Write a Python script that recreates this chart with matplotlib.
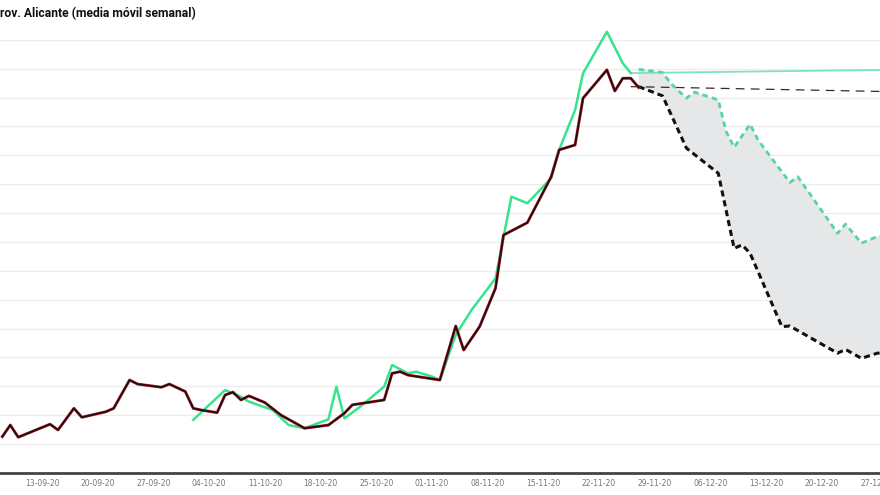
import numpy as np
import pandas as pd
import matplotlib
matplotlib.use("Agg")
import matplotlib.pyplot as plt

# casos (media móvil semanal)
fechas_casos = ["2020-09-08", "2020-09-09", "2020-09-10", "2020-09-14", "2020-09-15", "2020-09-17",
                "2020-09-18", "2020-09-21", "2020-09-22", "2020-09-24", "2020-09-25", "2020-09-28",
                "2020-09-29", "2020-10-01", "2020-10-02", "2020-10-03", "2020-10-05", "2020-10-06",
                "2020-10-07", "2020-10-08", "2020-10-09", "2020-10-11", "2020-10-13", "2020-10-16",
                "2020-10-19", "2020-10-21", "2020-10-22", "2020-10-26", "2020-10-27", "2020-10-28",
                "2020-10-29", "2020-11-02", "2020-11-04", "2020-11-05", "2020-11-07", "2020-11-09",
                "2020-11-10", "2020-11-13", "2020-11-16", "2020-11-17", "2020-11-19", "2020-11-20",
                "2020-11-23", "2020-11-24", "2020-11-25", "2020-11-26", "2020-11-27"]
casos = [126, 166, 124, 169, 149, 224, 193, 212, 224, 322, 308, 297, 308, 282, 224, 218, 209, 270,
         280, 253, 267, 244, 201, 155, 166, 207, 236, 253, 345, 351, 339, 322, 509, 426, 507, 640,
         824, 867, 1026, 1119, 1136, 1298, 1396, 1323, 1367, 1367, 1335]

fechas_verde = ["2020-10-02", "2020-10-06", "2020-10-07", "2020-10-08", "2020-10-09", "2020-10-12",
                "2020-10-14", "2020-10-16", "2020-10-19", "2020-10-20", "2020-10-21", "2020-10-23",
                "2020-10-26", "2020-10-27", "2020-10-29", "2020-10-30", "2020-11-01", "2020-11-02",
                "2020-11-04", "2020-11-06", "2020-11-09", "2020-11-11", "2020-11-13", "2020-11-16",
                "2020-11-17", "2020-11-19", "2020-11-20", "2020-11-23", "2020-11-25", "2020-11-26"]
verde = [184, 287, 276, 264, 247, 218, 166, 155, 186, 299, 189, 230, 299, 374, 345, 351, 334, 322,
         478, 565, 674, 957, 934, 1021, 1119, 1257, 1384, 1528, 1419, 1385]

fechas_ref = ["2020-11-26", "2020-12-28"]
ref_verde = [1385, 1396]
ref_negra = [1338, 1321]

fechas_sup = ["2020-11-27", "2020-11-30", "2020-12-01", "2020-12-03", "2020-12-04", "2020-12-07",
              "2020-12-08", "2020-12-09", "2020-12-11", "2020-12-12", "2020-12-16", "2020-12-17",
              "2020-12-22", "2020-12-23", "2020-12-25", "2020-12-27", "2020-12-28"]
proy_sup = [1398, 1387, 1350, 1298, 1319, 1292, 1182, 1128, 1208, 1153, 1006, 1026, 830, 862,
            796, 819, 822]

fechas_inf = ["2020-11-27", "2020-11-30", "2020-12-03", "2020-12-07", "2020-12-09", "2020-12-10",
              "2020-12-11", "2020-12-15", "2020-12-16", "2020-12-22", "2020-12-23", "2020-12-25",
              "2020-12-27", "2020-12-28"]
proy_inf = [1338, 1306, 1125, 1038, 778, 790, 761, 507, 509, 415, 428, 397, 415, 415]

ticks = pd.date_range("2020-09-13", "2020-12-27", freq="7D")

fc = pd.to_datetime(fechas_casos)
fv = pd.to_datetime(fechas_verde)
fr = pd.to_datetime(fechas_ref)
fs = pd.to_datetime(fechas_sup)
fi = pd.to_datetime(fechas_inf)

fig = plt.figure(figsize=(8.8, 4.95), dpi=100)
ax = fig.add_axes([0, 22 / 495, 1, 473 / 495])

# banda de proyección
ax.fill(np.concatenate([fs.values, fi.values[::-1]]),
        np.concatenate([proy_sup, proy_inf[::-1]]),
        color="#e6e7e9", lw=0, zorder=1)

ax.plot(fr, ref_verde, color="#7fe3b8", lw=1.3, zorder=2)
ax.plot(fr, ref_negra, color="#3a2a2c", lw=0.9, ls=(0, (7, 5)), zorder=2)
ax.plot(fs, proy_sup, color="#5ad2a8", lw=2, ls=(0, (2, 1.5)), zorder=3)
ax.plot(fi, proy_inf, color="#111111", lw=2.2, ls=(0, (2, 1.3)), zorder=3)

ax.plot(fv, verde, color="#36e48d", lw=1.8, zorder=4)
ax.plot(fc, casos, color="#d0202f", lw=2.1, zorder=5)
ax.plot(fc, casos, color="#161113", lw=1.3, zorder=6)

ax.set_xlim(pd.Timestamp("2020-09-07 17:00"), pd.Timestamp("2020-12-27 08:00"))
ax.set_ylim(0, 1638)
ax.set_yticks(range(100, 1600, 100))
ax.yaxis.grid(True, color="#ececec", lw=0.9)
ax.set_axisbelow(True)
ax.tick_params(axis="y", left=False, labelleft=False)
ax.set_xticks(ticks)
ax.set_xticklabels([t.strftime("%d-%m-%y") for t in ticks], fontsize=5.5, color="#777777")
ax.tick_params(axis="x", length=0, pad=4)
for s in ["top", "left", "right"]:
    ax.spines[s].set_visible(False)
ax.spines["bottom"].set_color("#444444")
ax.spines["bottom"].set_linewidth(2)

fig.text(0.0, 0.985, "rov. Alicante (media móvil semanal)", fontsize=8.7, fontweight="bold",
         family=["Roboto", "DejaVu Sans"], ha="left", va="top", color="#111111")

fig.savefig("out.png", dpi=100)
